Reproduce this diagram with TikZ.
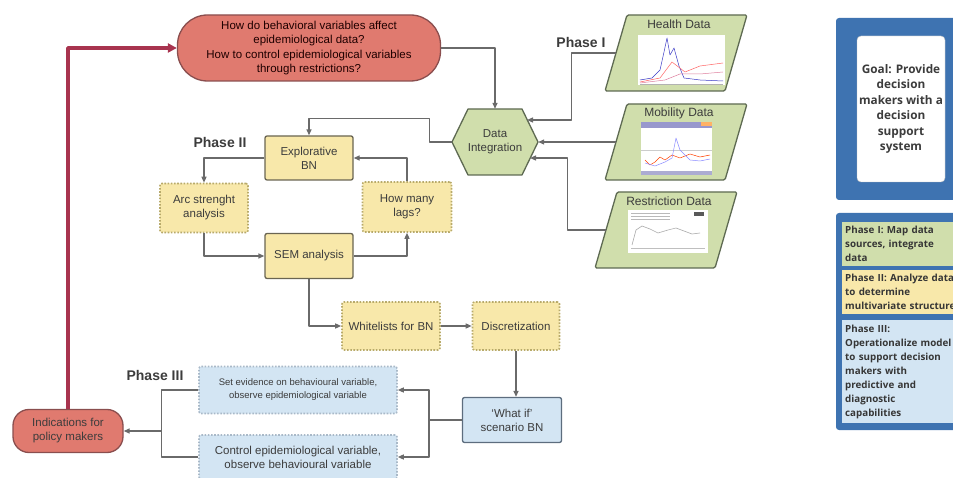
\documentclass[tikz,border=0pt]{standalone}
\usepackage{fontspec}
\setmainfont{Liberation Sans}
\newfontfamily\legendfont{Open Sans}
\usetikzlibrary{arrows.meta,positioning,calc}

\definecolor{qred}{HTML}{E07A6F}
\definecolor{qrededge}{HTML}{8A4E4E}
\definecolor{backred}{HTML}{A8344F}
\definecolor{dgreen}{HTML}{D0DEAC}
\definecolor{dgreenedge}{HTML}{5E6A52}
\definecolor{yfill}{HTML}{F8E8AA}
\definecolor{yedge}{HTML}{6A6552}
\definecolor{ydot}{HTML}{B8AA6A}
\definecolor{bfill}{HTML}{D3E5F3}
\definecolor{bedge}{HTML}{5D6D7E}
\definecolor{bdot}{HTML}{A9B9C8}
\definecolor{linegray}{HTML}{6A6A6A}
\definecolor{txt}{HTML}{3C3C3C}
\definecolor{panelblue}{HTML}{3E73B1}

\begin{document}
\begin{tikzpicture}[x=1pt,y=-1pt,line join=round,
    conn/.style={draw=linegray,line width=1.3pt,-{Triangle[length=6pt,width=5pt]}},
    link/.style={draw=linegray,line width=1.3pt},
    box/.style={line width=1.3pt,rounded corners=2pt,align=center,text=txt,
      font=\fontsize{11.5}{14}\selectfont,inner sep=2pt},
    ybox/.style={box,draw=yedge,fill=yfill},
    ydotbox/.style={box,draw=ydot,fill=yfill,line width=1.6pt,dash pattern=on 1.6pt off 1.6pt},
    bbox/.style={box,draw=bedge,fill=bfill},
    bdotbox/.style={box,draw=bdot,fill=bfill,line width=1.6pt,dash pattern=on 1.6pt off 1.6pt},
    phaselbl/.style={font=\bfseries\fontsize{14}{16}\selectfont,text=txt},
    legendbox/.style={anchor=north west,align=left,text width=130pt,inner sep=3pt,
      font=\legendfont\bfseries\fontsize{9.8}{14}\selectfont,text=txt!90!black}]
\useasboundingbox (0,0) rectangle (953,478);

% question
\node[box,draw=qrededge,fill=qred,rounded corners=30pt,minimum width=263pt,minimum height=66pt,
  text=black!80!red!60!black,font=\fontsize{11.5}{14.5}\selectfont] (question) at (309,48)
  {How do behavioral variables affect\\epidemiological data?\\How to control epidemiological variables\\through restrictions?};

% data integration hexagon
\coordinate (ic) at (495,142);
\draw[line width=1.3pt,draw=dgreenedge,fill=dgreen] ($(ic)+(-43,0)$) -- ($(ic)+(-27,-33)$) -- ($(ic)+(27,-33)$)
  -- ($(ic)+(43,0)$) -- ($(ic)+(27,33)$) -- ($(ic)+(-27,33)$) -- cycle;
\node[align=center,text=txt,font=\fontsize{11.5}{14}\selectfont,minimum width=86pt,minimum height=66pt] (integ) at (ic) {Data\\Integration};
\coordinate (hexne) at ($(ic)+(32,-22)$);
\coordinate (hexse) at ($(ic)+(35,16)$);

% data sources
\foreach \nm/\cx/\cy/\ttl in {health/676/53/Health Data,mobility/676/142/Mobility Data,restrict/666/230/Restriction Data}{
  \draw[line width=1.3pt,draw=dgreenedge,fill=dgreen,rounded corners=1.5pt]
    (\cx-71,\cy+38) -- (\cx-49,\cy-38) -- (\cx+71,\cy-38) -- (\cx+49,\cy+38) -- cycle;
  \node[minimum width=120pt,minimum height=76pt] (\nm) at (\cx,\cy) {};
  \node[text=txt,font=\fontsize{12}{14}\selectfont] at (\cx+3,\cy-29) {\ttl};
}

% charts
\fill[white] (638,35) rectangle (725,85);
\draw[blue!55!gray,line width=0.5pt] (640,80) -- (652,78) -- (660,70) -- (664,52) -- (667,38) -- (670,55) -- (674,48) -- (679,66) -- (684,78) -- (700,80) -- (723,81);
\draw[red!60,line width=0.5pt] (640,82) -- (660,78) -- (672,62) -- (685,72) -- (700,66) -- (723,63);
\draw[purple!50,line width=0.5pt] (640,83) -- (665,80) -- (680,74) -- (700,74) -- (723,72);
\draw[gray!60,line width=0.4pt] (640,84) -- (723,84);
\fill[white] (641,122) rectangle (712,175);
\fill[blue!35!gray!60] (641,122) rectangle (712,128);
\fill[orange!60] (701,122) rectangle (712,126);
\fill[blue!30!gray!50] (641,171) rectangle (712,175);
\draw[gray!40,line width=0.3pt] (641,150) -- (712,150);
\draw[red!50!orange,line width=0.5pt] (645,160) -- (650,165) -- (655,162) -- (660,157) -- (665,160) -- (672,155) -- (680,158) -- (690,154) -- (700,157) -- (710,155);
\draw[blue!45,line width=0.5pt] (645,163) -- (655,166) -- (665,162) -- (672,158) -- (676,138) -- (680,150) -- (690,160) -- (700,161) -- (710,159);
\fill[white] (628,210) rectangle (708,253);
\fill[gray!70!black] (694,212) rectangle (704,216);
\foreach \yy in {213,216,219}{\draw[gray!55,line width=0.4pt] (631,\yy) -- (670,\yy);}
\draw[gray!65,line width=0.6pt] (632,245) -- (636,230) -- (642,226) -- (650,229) -- (658,233) -- (668,230) -- (676,228) -- (684,231) -- (692,234) -- (700,233);
\draw[gray!50,line width=0.4pt] (631,248) -- (705,248);

% phase II
\node[ybox,minimum width=88pt,minimum height=44pt] (explor) at (309,158) {Explorative\\BN};
\node[ydotbox,minimum width=88pt,minimum height=49pt] (arc) at (204,208) {Arc strenght\\analysis};
\node[ydotbox,minimum width=89pt,minimum height=50pt] (lags) at (407,207) {How many\\lags?};
\node[ybox,minimum width=88pt,minimum height=45pt] (sem) at (309,256) {SEM analysis};
\node[ydotbox,minimum width=98pt,minimum height=48pt] (white) at (391,326) {Whitelists for BN};
\node[ydotbox,minimum width=87pt,minimum height=48pt] (discr) at (516,326) {Discretization};

% phase III
\node[bbox,minimum width=99pt,minimum height=45pt] (whatif) at (512,420) {`What if'\\scenario BN};
\node[bdotbox,minimum width=198pt,minimum height=47pt,font=\fontsize{9.5}{13}\selectfont] (setev) at (298,390)
  {Set evidence on behavioural variable,\\observe epidemiological variable};
\node[bdotbox,minimum width=198pt,minimum height=44pt] (control) at (298,457)
  {Control epidemiological variable,\\observe behavioural variable};
\node[box,draw=qrededge,fill=qred,rounded corners=16pt,minimum width=110pt,minimum height=43pt] (indic) at (68,431)
  {Indications for\\policy makers};

\node[phaselbl] at (581,42) {Phase I};
\node[phaselbl] at (220,142) {Phase II};
\node[phaselbl] at (155,375) {Phase III};

% connectors
\draw[conn] (question.east) -| (integ.north);
\draw[conn] (health.west) -- ++(-44,0) |- (hexne);
\draw[conn] (mobility.west) -- (integ.east);
\draw[conn] (restrict.west) -- ++(-38,0) |- (hexse);
\draw[conn] (integ.west) -- ++(-22,0) |- ($(explor.north)+(0,-17)$) -- (explor.north);
\draw[conn] (explor.west) -| (arc.north);
\draw[conn] (arc.south) |- (sem.west);
\draw[conn] (sem.east) -| (lags.south);
\draw[conn] (lags.north) |- (explor.east);
\draw[conn] (sem.south) |- (white.west);
\draw[conn] (white.east) -- (discr.west);
\draw[conn] (discr.south) -- (discr.south |- whatif.north);
\coordinate (fork) at ($(whatif.west)+(-33,0)$);
\draw[conn] (whatif.west) -- (fork) |- (setev.east);
\draw[conn] (fork) |- (control.east);
\coordinate (join) at ($(setev.west)+(-37,0)$);
\draw[link] (setev.west) -- (join) |- (control.west);
\draw[conn] (join |- indic.east) -- (indic.east);
\draw[draw=backred,line width=3.5pt,-{Triangle[length=9pt,width=9pt]}] (indic.north) |- (question.west);

% right panel
\fill[panelblue,rounded corners=3pt] (836,18) rectangle (970,200);
\node[draw=gray!50,fill=white,rounded corners=4pt,minimum width=88pt,minimum height=146pt,align=center,
  font=\legendfont\bfseries\fontsize{11.8}{15.5}\selectfont,text=txt,inner sep=1pt] (goal) at (901,109)
  {Goal: Provide\\decision\\makers with a\\decision\\support\\system};
\fill[panelblue,rounded corners=3pt] (836,213) rectangle (970,430);
\node[legendbox,fill=dgreen,minimum height=44pt] (leg1) at (842,222) {Phase I: Map data\\sources, integrate\\data};
\node[legendbox,fill=yfill,minimum height=44pt] (leg2) at (842,270) {Phase II: Analyze data\\to determine\\multivariate structure};
\node[legendbox,fill=bfill,minimum height=103pt] (leg3) at (842,320) {Phase III:\\Operationalize model\\to support decision\\makers with\\predictive and\\diagnostic\\capabilities};
\end{tikzpicture}
\end{document}
